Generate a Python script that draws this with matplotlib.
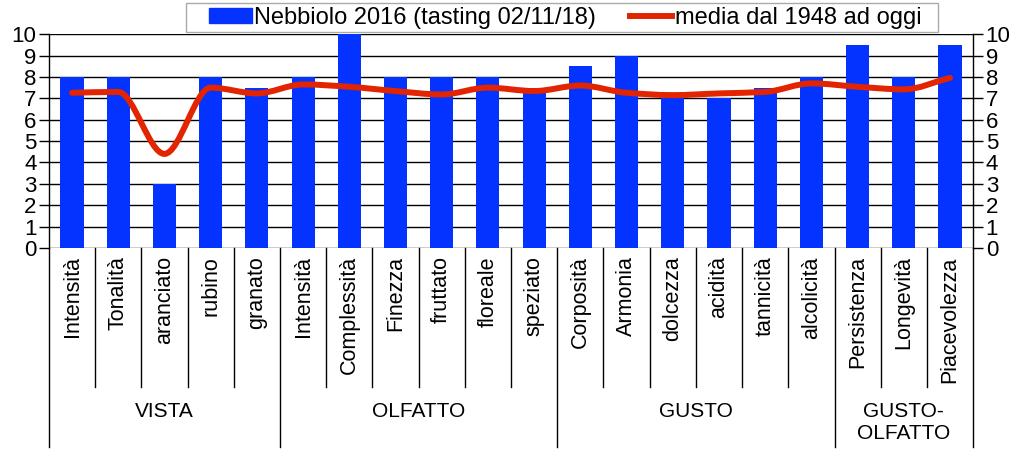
import numpy as np
import matplotlib.pyplot as plt
from matplotlib.path import Path
from matplotlib.patches import PathPatch, Patch, Rectangle
from matplotlib.lines import Line2D
import matplotlib.transforms as mtransforms

plt.rcParams['font.family'] = ['Liberation Sans', 'DejaVu Sans']

categories = ["Intensità", "Tonalità", "aranciato", "rubino", "granato",
              "Intensità", "Complessità", "Finezza", "fruttato", "floreale", "speziato",
              "Corposità", "Armonia", "dolcezza", "acidità", "tannicità", "alcolicità",
              "Persistenza", "Longevità", "Piacevolezza"]
nebbiolo_2016 = [8, 8, 3, 8, 7.5,
                 8, 10, 8, 8, 8, 7.5,
                 8.5, 9, 7, 7, 7.5, 8,
                 9.5, 8, 9.5]
media_1948 = [7.26, 7.3, 4.4, 7.5, 7.23,
              7.65, 7.54, 7.34, 7.18, 7.5, 7.34,
              7.6, 7.26, 7.15, 7.23, 7.3, 7.7,
              7.54, 7.42, 7.96]
groups = ["VISTA", "OLFATTO", "GUSTO", "GUSTO-\nOLFATTO"]
group_sizes = [5, 6, 6, 3]

blue = "#0433FF"
red = "#E22400"

fig = plt.figure(figsize=(10.19, 4.5), dpi=100)
ax = fig.add_axes([0.048, 0.449, 0.907, 0.475])

x = np.arange(len(categories))
ax.bar(x, nebbiolo_2016, width=0.5, color=blue, zorder=3)

# smoothed line: monotone (pchip-style) tangents drawn as bezier segments
y = np.array(media_1948, dtype=float)
d = np.diff(y)
m = np.zeros_like(y)
for k in range(1, len(y) - 1):
    if d[k - 1] * d[k] > 0:
        m[k] = 2 / (1 / d[k - 1] + 1 / d[k])
m[0] = d[0]
m[-1] = d[-1]
verts = [(x[0], y[0])]
codes = [Path.MOVETO]
for k in range(len(y) - 1):
    verts += [(x[k] + 1 / 3, y[k] + m[k] / 3),
              (x[k + 1] - 1 / 3, y[k + 1] - m[k + 1] / 3),
              (x[k + 1], y[k + 1])]
    codes += [Path.CURVE4] * 3
ax.add_patch(PathPatch(Path(verts, codes), facecolor='none', edgecolor=red,
                       lw=4.3, capstyle='round', zorder=4))

ax.set_xlim(-0.5, len(categories) - 0.5)
ax.set_ylim(0, 10)
ax.set_yticks(range(11))
for v in range(11):
    ax.axhline(v, color='black', lw=1, zorder=1)
ax.tick_params(axis='y', which='both', left=True, right=True, labelleft=True,
               labelright=True, direction='out', length=7, width=1,
               labelsize=16, pad=2)
ax.set_xticks(x)
ax.set_xticklabels(categories, rotation=90, fontsize=15.5)
ax.tick_params(axis='x', length=0, pad=6)
for s in ['top', 'bottom']:
    ax.spines[s].set_visible(False)
for s in ['left', 'right']:
    ax.spines[s].set_linewidth(1)

# separators under the axis
trans = mtransforms.blended_transform_factory(ax.transData, ax.transAxes)
bounds = np.cumsum([0] + group_sizes)
for b in range(len(categories) + 1):
    low = -0.93 if b in bounds else -0.65
    ax.plot([b - 0.5, b - 0.5], [0, low], color='black', lw=1,
            transform=trans, clip_on=False)
for g, start, n in zip(groups, bounds[:-1], group_sizes):
    ax.text(start - 0.5 + n / 2, -0.72, g, transform=trans, ha='center',
            va='top', fontsize=15, linespacing=1.2)

# legend box drawn separately so the inner padding can match
fig.patches.append(Rectangle((186 / 1019, 1 - 32 / 450), (938 - 186) / 1019, 29 / 450,
                             transform=fig.transFigure, facecolor='white',
                             edgecolor='#aaaaaa', lw=1, zorder=0))
handles = [Patch(color=blue), Line2D([], [], color=red, lw=4.3)]
leg = fig.legend(handles, ["Nebbiolo 2016 (tasting 02/11/18)", "media dal 1948 ad oggi"],
                 loc='center left', bbox_to_anchor=(209 / 1019, 1 - 18 / 450), ncol=2,
                 fontsize=17, frameon=False, handlelength=1.8,
                 handleheight=0.6, handletextpad=0.1, columnspacing=1.45,
                 borderpad=0, borderaxespad=0)

fig.savefig("out.png", dpi=100)
